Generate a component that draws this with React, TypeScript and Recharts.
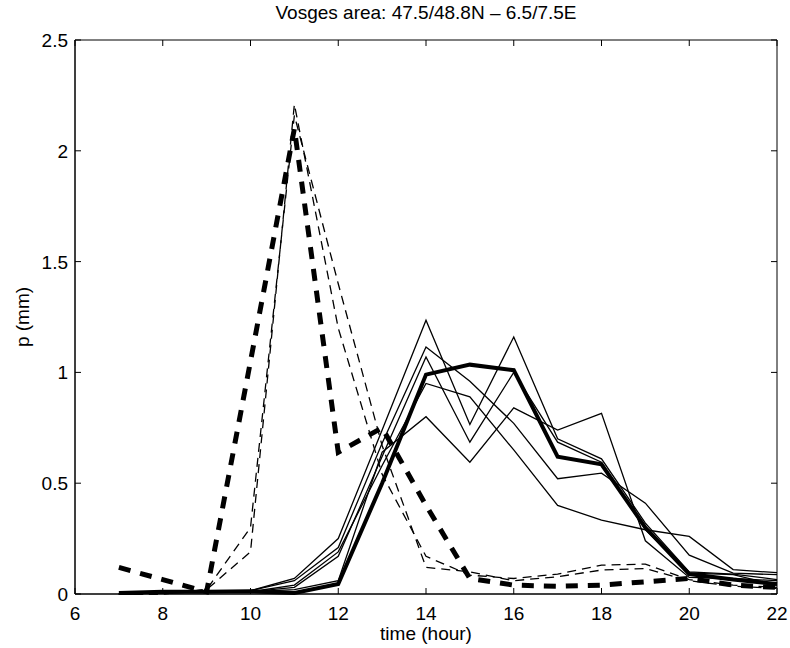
import React from 'react';
import { LineChart, Line, XAxis, YAxis, ReferenceArea } from 'recharts';

const hours = [7, 8, 9, 10, 11, 12, 13, 14, 15, 16, 17, 18, 19, 20, 21, 22];

const obsMean = [0.005, 0.01, 0.01, 0.012, 0.005, 0.045, 0.5, 0.99, 1.035, 1.01, 0.62, 0.585, 0.3, 0.09, 0.065, 0.045];
const memberA = [0.0, 0.005, 0.01, 0.015, 0.07, 0.25, 0.74, 1.235, 0.765, 1.16, 0.7, 0.61, 0.32, 0.1, 0.09, 0.065];
const memberB = [0.0, 0.005, 0.01, 0.01, 0.02, 0.06, 0.64, 0.8, 0.595, 0.84, 0.74, 0.815, 0.24, 0.075, 0.07, 0.06];
const memberC = [0.0, 0.005, 0.01, 0.015, 0.06, 0.21, 0.68, 1.115, 0.96, 0.77, 0.52, 0.545, 0.41, 0.175, 0.094, 0.087];
const memberD = [0.0, 0.005, 0.01, 0.01, 0.03, 0.17, 0.62, 1.07, 0.685, 1.0, 0.685, 0.595, 0.29, 0.094, 0.087, 0.04];
const memberE = [0.0, 0.005, 0.01, 0.01, 0.04, 0.19, 0.58, 0.95, 0.89, 0.65, 0.4, 0.333, 0.29, 0.26, 0.11, 0.096];

const fcstP = [0.0, 0.0, 0.02, 0.19, 2.21, 1.2, 0.54, 0.17, 0.085, 0.07, 0.09, 0.13, 0.135, 0.065, 0.04, 0.03];
const fcstQ = [0.0, 0.0, 0.02, 0.3, 2.16, 1.4, 0.67, 0.12, 0.1, 0.06, 0.078, 0.108, 0.115, 0.06, 0.035, 0.025];
const fcstMean = [0.12, 0.065, 0.01, 1.05, 2.1, 0.64, 0.75, 0.4, 0.07, 0.04, 0.035, 0.04, 0.055, 0.07, 0.04, 0.03];

const xTicks = [6, 8, 10, 12, 14, 16, 18, 20, 22];
const yTicks = [0, 0.5, 1, 1.5, 2, 2.5];
const titleText = 'Vosges area: 47.5/48.8N \u2013 6.5/7.5E';
const xLabel = 'time (hour)';
const yLabel = 'p (mm)';

const data = hours.map((h, i) => ({
  hour: h,
  obsMean: obsMean[i],
  memberA: memberA[i],
  memberB: memberB[i],
  memberC: memberC[i],
  memberD: memberD[i],
  memberE: memberE[i],
  fcstP: fcstP[i],
  fcstQ: fcstQ[i],
  fcstMean: fcstMean[i],
}));

const FONT = '"Liberation Sans", Arial, Helvetica, sans-serif';
const FS = 19;
const TL = 6;

const BottomTick = (props: any) => {
  const { x, y, payload } = props;
  const ay = y - 1;
  return (
    <g>
      <line x1={x} y1={ay} x2={x} y2={ay - TL} stroke="#000" strokeWidth={1} />
      <line x1={x} y1={40} x2={x} y2={40 + TL} stroke="#000" strokeWidth={1} />
      <text x={x} y={ay + 26} textAnchor="middle" fontFamily={FONT} fontSize={FS} fill="#000">
        {payload.value}
      </text>
    </g>
  );
};

const LeftTick = (props: any) => {
  const { x, y, payload } = props;
  const ax = x + 1;
  return (
    <g>
      <line x1={ax} y1={y} x2={ax + TL} y2={y} stroke="#000" strokeWidth={1} />
      <line x1={777} y1={y} x2={777 - TL} y2={y} stroke="#000" strokeWidth={1} />
      <text x={ax - 7} y={y + 7} textAnchor="end" fontFamily={FONT} fontSize={FS} fill="#000">
        {payload.value}
      </text>
    </g>
  );
};

const XLabel = (props: any) => {
  const vb = props.viewBox || {};
  return (
    <g>
      <text x={vb.x + vb.width / 2} y={vb.y + 46} textAnchor="middle" fontFamily={FONT} fontSize={FS} fill="#000">
        {xLabel}
      </text>
      <text x={vb.x + vb.width / 2} y={19} textAnchor="middle" fontFamily={FONT} fontSize={FS} fill="#000">
        {titleText}
      </text>
    </g>
  );
};

const YLabel = (props: any) => {
  const vb = props.viewBox || {};
  const cx = 29;
  const cy = vb.y + vb.height / 2;
  return (
    <text x={cx} y={cy} textAnchor="middle" transform={`rotate(-90 ${cx} ${cy})`} fontFamily={FONT} fontSize={FS} fill="#000">
      {yLabel}
    </text>
  );
};

export default function App() {
  const thin = 1.3;
  return (
    <div style={{ position: 'absolute', left: 0, top: 0, width: 790, height: 648, background: '#fff' }}>
      <LineChart width={790} height={648} data={data} margin={{ top: 40, right: 13, bottom: 0, left: 0 }}>
        <XAxis
          xAxisId="b"
          dataKey="hour"
          type="number"
          domain={[6, 22]}
          ticks={xTicks}
          height={54}
          tickSize={1}
          tickMargin={0}
          tickLine={false}
          axisLine={{ stroke: '#000', strokeWidth: 1 }}
          tick={<BottomTick />}
          label={<XLabel />}
          interval={0}
        />
        <YAxis
          yAxisId="l"
          type="number"
          domain={[0, 2.5]}
          ticks={yTicks}
          width={75}
          tickSize={1}
          tickMargin={0}
          tickLine={false}
          axisLine={{ stroke: '#000', strokeWidth: 1 }}
          tick={<LeftTick />}
          label={<YLabel />}
          interval={0}
        />
        <ReferenceArea xAxisId="b" yAxisId="l" x1={6} x2={22} y1={0} y2={2.5} fill="none" fillOpacity={0} stroke="#000" strokeWidth={1} ifOverflow="visible" />
        <Line xAxisId="b" yAxisId="l" dataKey="fcstP" stroke="#000" strokeWidth={thin} strokeDasharray="9 6" dot={false} isAnimationActive={false} type="linear" />
        <Line xAxisId="b" yAxisId="l" dataKey="fcstQ" stroke="#000" strokeWidth={thin} strokeDasharray="9 6" dot={false} isAnimationActive={false} type="linear" />
        <Line xAxisId="b" yAxisId="l" dataKey="memberA" stroke="#000" strokeWidth={thin} dot={false} isAnimationActive={false} type="linear" />
        <Line xAxisId="b" yAxisId="l" dataKey="memberB" stroke="#000" strokeWidth={thin} dot={false} isAnimationActive={false} type="linear" />
        <Line xAxisId="b" yAxisId="l" dataKey="memberC" stroke="#000" strokeWidth={thin} dot={false} isAnimationActive={false} type="linear" />
        <Line xAxisId="b" yAxisId="l" dataKey="memberD" stroke="#000" strokeWidth={thin} dot={false} isAnimationActive={false} type="linear" />
        <Line xAxisId="b" yAxisId="l" dataKey="memberE" stroke="#000" strokeWidth={thin} dot={false} isAnimationActive={false} type="linear" />
        <Line xAxisId="b" yAxisId="l" dataKey="fcstMean" stroke="#000" strokeWidth={5} strokeDasharray="12 10" dot={false} isAnimationActive={false} type="linear" />
        <Line xAxisId="b" yAxisId="l" dataKey="obsMean" stroke="#000" strokeWidth={4} dot={false} isAnimationActive={false} type="linear" />
      </LineChart>
    </div>
  );
}
